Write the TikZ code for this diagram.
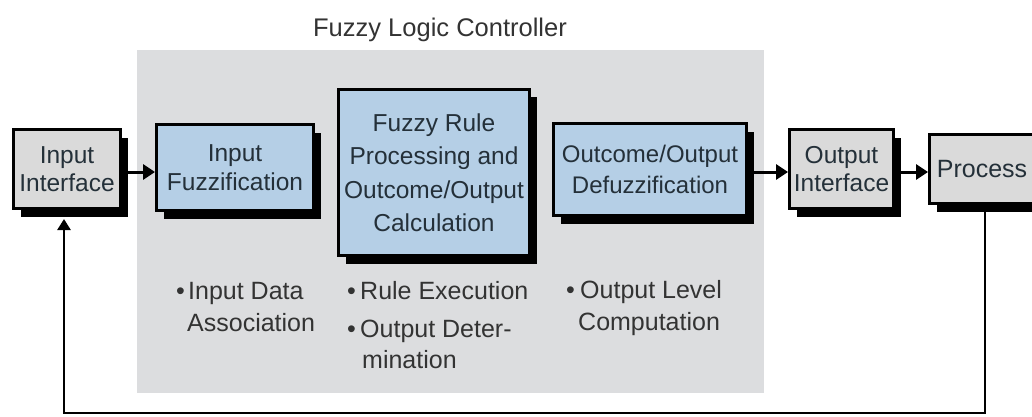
\documentclass[tikz,border=0pt]{standalone}
\usepackage{fontspec}
\setmainfont{Liberation Sans}
\usetikzlibrary{shadows,arrows.meta}
\definecolor{panelgray}{HTML}{DCDDDF}
\definecolor{boxgray}{HTML}{DADADA}
\definecolor{boxblue}{HTML}{B5CFE6}
\definecolor{txtdark}{HTML}{243039}
\definecolor{txtgray}{HTML}{333333}
\tikzset{
  basebox/.style={draw=black, line width=3pt, inner sep=0pt, align=center,
    text=txtdark,
    drop shadow={shadow xshift=7pt, shadow yshift=-8pt, opacity=1, fill=black}},
  graybox/.style={basebox, fill=boxgray},
  bluebox/.style={basebox, fill=boxblue},
  flow/.style={line width=3pt, -{Triangle[length=12pt,width=15pt]}},
  feedback/.style={line width=2.5pt, -{Triangle[length=11pt,width=13pt]}},
  btxt/.style={anchor=base west, inner sep=0pt, text=txtgray,
    font=\fontsize{25}{30}\selectfont},
}
\begin{document}
\begin{tikzpicture}[x=1pt,y=-1pt]
\useasboundingbox[fill=white] (0,0) rectangle (1032,417);
% panel
\node[fill=panelgray, minimum width=627pt, minimum height=343pt, inner sep=0pt] (panel) at (450.5,221.5) {};
\node[anchor=base, inner sep=0pt, text=txtgray, font=\fontsize{25.5}{30}\selectfont] (title) at (440,37) {Fuzzy Logic Controller};
% boxes
\node[graybox, minimum width=107pt, minimum height=79pt, font=\fontsize{24.5}{28.5}\selectfont] (ii) at (67,169) {Input\\Interface};
\node[bluebox, minimum width=157pt, minimum height=86pt, font=\fontsize{24.5}{29}\selectfont] (fz) at (235,167.5) {Input\\Fuzzification};
\node[bluebox, minimum width=191pt, minimum height=166pt, font=\fontsize{24.5}{33.5}\selectfont] (fr) at (434,172.5) {Fuzzy Rule\\Processing and\\Outcome/Output\\Calculation};
\node[bluebox, minimum width=193pt, minimum height=92pt, font=\fontsize{24}{31.5}\selectfont] (df) at (650,169.5) {Outcome/Output\\Defuzzification};
\node[graybox, minimum width=104pt, minimum height=79pt, font=\fontsize{24.5}{28.5}\selectfont] (oi) at (841.5,169) {Output\\Interface};
\node[graybox, minimum width=105pt, minimum height=69pt, font=\fontsize{25}{30}\selectfont] (pr) at (982,169) {Process};
% arrows
\draw[flow] ([yshift=-3pt]ii.east) -- ([yshift=-3pt]ii.east -| fz.west);
\draw[flow] ([yshift=-2.5pt]df.east) -- ([yshift=-2.5pt]df.east -| oi.west);
\draw[flow] ([yshift=-3pt]oi.east) -- ([yshift=-3pt]oi.east -| pr.west);
% feedback
\coordinate (fbr) at (985,413);
\coordinate (fbl) at (64,413);
\coordinate (fbend) at (64,219);
\draw[feedback] (pr.south -| fbr) -- (fbr) -- (fbl) -- (fbend);
% bullets
\node[btxt] (b1) at (176,299) {•};
\node[btxt] (t1a) at (188,299) {Input Data};
\node[btxt] (t1b) at (187,331) {Association};
\node[btxt] (b2) at (347,299) {•};
\node[btxt] (t2a) at (360,299) {Rule Execution};
\node[btxt] (b3) at (347,337) {•};
\node[btxt] (t3a) at (360,337) {Output Deter-};
\node[btxt] (t3b) at (362,368) {mination};
\node[btxt] (b4) at (566,298) {•};
\node[btxt] (t4a) at (580,298) {Output Level};
\node[btxt] (t4b) at (578,330) {Computation};
\end{tikzpicture}
\end{document}
